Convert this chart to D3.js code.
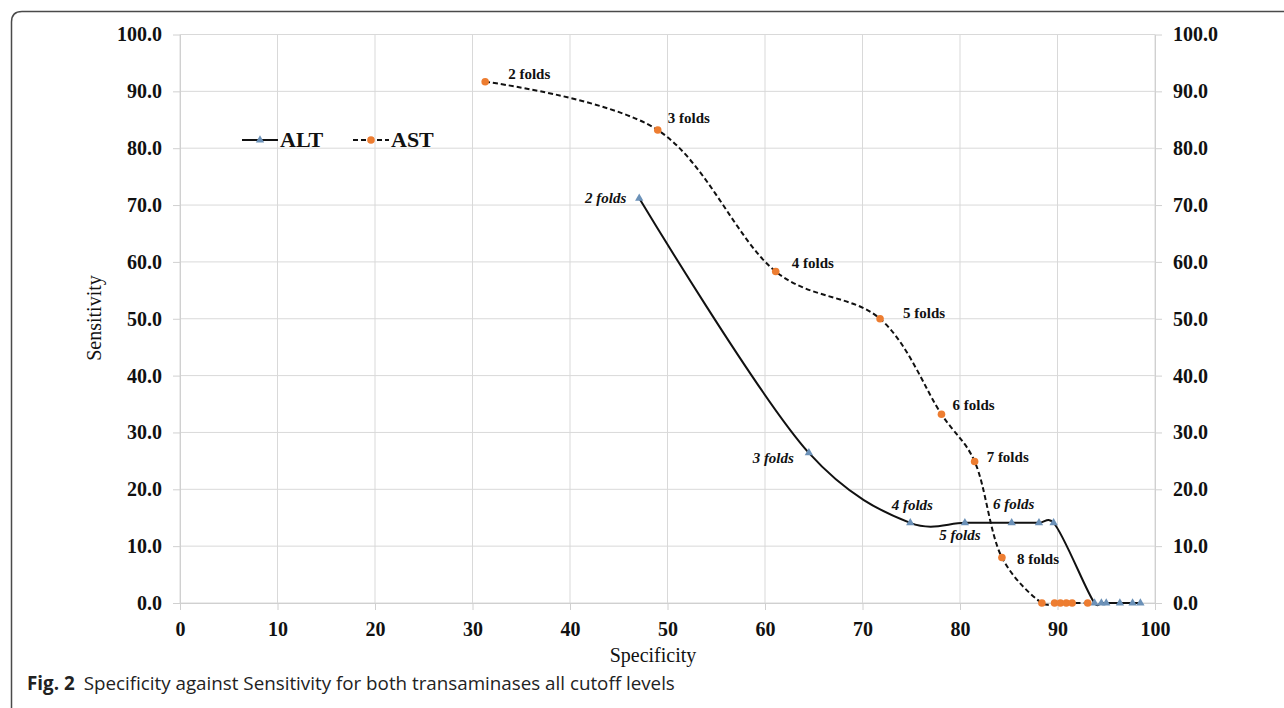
<!DOCTYPE html>
<html>
<head>
<meta charset="utf-8">
<script src="https://cdn.jsdelivr.net/npm/d3@7"></script>
<style>
  body { margin: 0; background: #fff; }
  svg { display: block; }
</style>
</head>
<body>
<div id="chart"></div>
<script>
// values (specificity %, sensitivity %)
var altSpec = [47.1, 64.5, 74.9, 80.5, 85.3, 88.1, 89.6, 93.8, 94.5, 95.0, 96.4, 97.7, 98.5];
var altSens = [71.2, 26.4, 14.1, 14.1, 14.1, 14.1, 14.1, 0, 0, 0, 0, 0, 0];
var altLabels = ["2 folds", "3 folds", "4 folds", "5 folds", "6 folds"];

var astSpec = [31.3, 49.0, 61.1, 71.8, 78.1, 81.5, 84.3, 88.4, 89.7, 90.3, 90.9, 91.5, 93.1];
var astSens = [91.7, 83.2, 58.3, 50.0, 33.2, 24.9, 8.0, 0, 0, 0, 0, 0, 0];
var astLabels = ["2 folds", "3 folds", "4 folds", "5 folds", "6 folds", "7 folds", "8 folds"];

var xTicks = [0, 10, 20, 30, 40, 50, 60, 70, 80, 90, 100];
var yTicks = [0, 10, 20, 30, 40, 50, 60, 70, 80, 90, 100];

// label nudges (px) relative to each point, as placed in the original
var altNudge = [[-13, 5, "end"], [-15, 10, "end"], [2, -13, "middle"], [-5, 17, "middle"], [2, -14, "middle"]];
var astNudge = [[23, -3], [10, -7], [16, -4], [23, -1], [11, -4], [12, 1], [15, 6]];

var W = 1284, H = 708;
var serif = "'Liberation Serif', 'Times New Roman', serif";

var svg = d3.select("#chart").append("svg")
    .attr("width", W)
    .attr("height", H);

// frame: only top and left edges, rounded corner
svg.append("path")
    .attr("d", "M11.5," + H + " L11.5,22 Q11.5,11.5 22,11.5 L" + W + ",11.5")
    .attr("fill", "none")
    .attr("stroke", "#4a4a4a")
    .attr("stroke-width", 1.5);

var x = d3.scaleLinear().domain([0, 100]).range([180, 1155]);
var y = d3.scaleLinear().domain([0, 100]).range([603, 34.5]);

// gridlines
var grid = svg.append("g").attr("stroke", "#d9d9d9").attr("stroke-width", 1);
grid.selectAll("line.v").data(xTicks).enter().append("line")
    .attr("x1", function (d) { return x(d); })
    .attr("x2", function (d) { return x(d); })
    .attr("y1", y(0)).attr("y2", y(100));
grid.selectAll("line.h").data(yTicks).enter().append("line")
    .attr("x1", x(0)).attr("x2", x(100))
    .attr("y1", function (d) { return y(d); })
    .attr("y2", function (d) { return y(d); });

function styleAxis(g) {
    g.selectAll("path").attr("stroke", "#d0d0d0");
    g.selectAll("line").attr("stroke", "#d0d0d0");
    g.selectAll("text")
        .attr("fill", "#111")
        .style("font-family", serif)
        .style("font-weight", "bold")
        .style("font-size", "20px");
}

svg.append("g")
    .attr("transform", "translate(0," + y(0) + ")")
    .call(d3.axisBottom(x).tickValues(xTicks).tickSize(7).tickPadding(12).tickSizeOuter(0))
    .call(styleAxis);

svg.append("g")
    .attr("transform", "translate(" + x(0) + ",0)")
    .call(d3.axisLeft(y).tickValues(yTicks).tickFormat(d3.format(".1f")).tickSize(7).tickPadding(11).tickSizeOuter(0))
    .call(styleAxis);

svg.append("g")
    .attr("transform", "translate(" + x(100) + ",0)")
    .call(d3.axisRight(y).tickValues(yTicks).tickFormat(d3.format(".1f")).tickSize(7).tickPadding(11).tickSizeOuter(0))
    .call(styleAxis);

// axis titles
svg.append("text")
    .attr("x", 653).attr("y", 662)
    .attr("text-anchor", "middle")
    .style("font-family", serif)
    .style("font-size", "20px")
    .attr("fill", "#111")
    .text("Specificity");

svg.append("text")
    .attr("transform", "translate(101,318)rotate(-90)")
    .attr("text-anchor", "middle")
    .style("font-family", serif)
    .style("font-size", "20px")
    .attr("fill", "#111")
    .text("Sensitivity");

// series
var series = [
    { name: "ALT", xs: altSpec, ys: altSens, labels: altLabels, nudge: altNudge, dash: null, marker: "tri", color: "#6b91b8", italic: true },
    { name: "AST", xs: astSpec, ys: astSens, labels: astLabels, nudge: astNudge, dash: "5,3", marker: "dot", color: "#ed7d31", italic: false }
];

var line = d3.line()
    .x(function (d) { return x(d[0]); })
    .y(function (d) { return y(d[1]); })
    .curve(d3.curveCatmullRom.alpha(0.25));

var tri = d3.symbol().type(d3.symbolTriangle).size(30);

function drawMarker(g, s, px, py) {
    if (s.marker === "tri") {
        g.append("path")
            .attr("d", tri())
            .attr("transform", "translate(" + px + "," + py + ")")
            .attr("fill", s.color);
    } else {
        g.append("circle")
            .attr("cx", px).attr("cy", py).attr("r", 3.8)
            .attr("fill", s.color);
    }
}

series.forEach(function (s) {
    var pts = s.xs.map(function (v, i) { return [v, s.ys[i]]; });
    svg.append("path")
        .datum(pts)
        .attr("d", line)
        .attr("fill", "none")
        .attr("stroke", "#111")
        .attr("stroke-width", 2)
        .attr("stroke-dasharray", s.dash);
});

series.forEach(function (s) {
    var g = svg.append("g");
    s.xs.forEach(function (v, i) {
        drawMarker(g, s, x(v), y(s.ys[i]));
    });
    s.labels.forEach(function (t, i) {
        var n = s.nudge[i];
        g.append("text")
            .attr("x", x(s.xs[i]) + n[0])
            .attr("y", y(s.ys[i]) + n[1])
            .attr("text-anchor", n[2] || "start")
            .style("font-family", serif)
            .style("font-weight", "bold")
            .style("font-style", s.italic ? "italic" : "normal")
            .style("font-size", "15px")
            .attr("fill", "#111")
            .text(t);
    });
});

// legend
var legendX = [242, 353];
series.forEach(function (s, i) {
    var g = svg.append("g").attr("transform", "translate(" + legendX[i] + ",140)");
    g.append("line")
        .attr("x1", 0).attr("x2", 36)
        .attr("stroke", "#111").attr("stroke-width", 2)
        .attr("stroke-dasharray", s.dash);
    drawMarker(g, s, 18, 0);
    g.append("text")
        .attr("x", 38).attr("y", 7)
        .style("font-family", serif)
        .style("font-weight", "bold")
        .style("font-size", "22px")
        .attr("fill", "#111")
        .text(s.name);
});

// caption
var cap = svg.append("text")
    .attr("x", 27).attr("y", 690)
    .style("font-family", "'Open Sans', 'Noto Sans', sans-serif")
    .style("font-size", "18.8px")
    .attr("fill", "#222");
cap.append("tspan").style("font-weight", "bold").text("Fig. 2");
cap.append("tspan").attr("dx", 9).text("Specificity against Sensitivity for both transaminases all cutoff levels");
</script>
</body>
</html>
